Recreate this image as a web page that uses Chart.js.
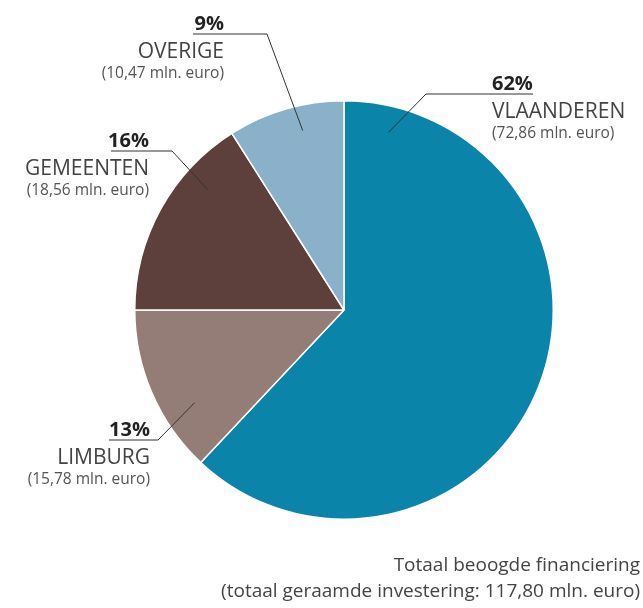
<!DOCTYPE html>
<html><head><meta charset="utf-8">
<script src="https://cdn.jsdelivr.net/npm/chart.js@4"></script>
<style>html,body{margin:0;padding:0;background:#fff}#wrap{width:643px;height:608px;position:relative}</style>
</head><body><div id="wrap"><canvas id="c" width="643" height="608"></canvas></div>
<script>
const categories = ['VLAANDEREN', 'LIMBURG', 'GEMEENTEN', 'OVERIGE'];
const percents = [62, 13, 16, 9];
const amountLabels = ['(72,86 mln. euro)', '(15,78 mln. euro)', '(18,56 mln. euro)', '(10,47 mln. euro)'];
const colors = ['#0b84aa', '#957d77', '#5d403b', '#8ab1c9'];
const footerLines = ['Totaal beoogde financiering', '(totaal geraamde investering: 117,80 mln. euro)'];

const FONT = '"Open Sans", Lato, sans-serif';
// leader layout: fraction along slice angle, radius fraction, elbow point, line end, text anchor
const layout = [
  {frac:0.063, rf:0.875, elbow:[426,94], end:[533,94], tx:492, align:'left'},
  {frac:0.32, rf:0.84, elbow:[158,440], end:[109,440], tx:150, align:'right'},
  {frac:0.72, rf:0.87, elbow:[172,151], end:[111,151], tx:149, align:'right'},
  {frac:0.6, rf:0.88, elbow:[267,34], end:[193,34], tx:224, align:'right'}
];

const labelPlugin = {
  id:'labels',
  afterDraw(chart){
    const ctx = chart.ctx;
    const meta = chart.getDatasetMeta(0);
    meta.data.forEach((arc,i)=>{
      const L = layout[i];
      const a = arc.startAngle + (arc.endAngle-arc.startAngle)*L.frac;
      const r = arc.outerRadius*L.rf;
      const px = arc.x + Math.cos(a)*r, py = arc.y + Math.sin(a)*r;
      ctx.save();
      ctx.strokeStyle = '#333'; ctx.lineWidth = 1;
      ctx.beginPath();
      ctx.moveTo(px,py); ctx.lineTo(L.elbow[0],L.elbow[1]); ctx.lineTo(L.end[0],L.end[1]);
      ctx.stroke();
      const ly = L.elbow[1];
      ctx.textAlign = L.align; ctx.textBaseline = 'alphabetic';
      ctx.fillStyle = '#222';
      ctx.font = 'bold 20px ' + FONT;
      ctx.fillText(percents[i]+'%', L.tx, ly-4);
      ctx.fillStyle = '#444';
      ctx.font = '21px ' + FONT;
      ctx.fillText(categories[i], L.tx, ly+24);
      ctx.fillStyle = '#555';
      ctx.font = '15.5px ' + FONT;
      ctx.fillText(amountLabels[i], L.tx, ly+44);
      ctx.restore();
    });
    ctx.save();
    ctx.fillStyle = '#444';
    ctx.font = '19px ' + FONT;
    ctx.textAlign = 'right';
    ctx.fillText(footerLines[0], 640, 571);
    ctx.fillText(footerLines[1], 640, 597);
    ctx.restore();
  }
};

new Chart(document.getElementById('c'), {
  type:'pie',
  data:{labels:categories, datasets:[{data:percents, backgroundColor:colors, borderColor:'#fff', borderWidth:1.5}]},
  options:{
    responsive:false, animation:false,
    layout:{padding:{top:100,bottom:88,left:134,right:89}},
    plugins:{legend:{display:false}, tooltip:{enabled:false}}
  },
  plugins:[labelPlugin]
});
</script></body></html>
